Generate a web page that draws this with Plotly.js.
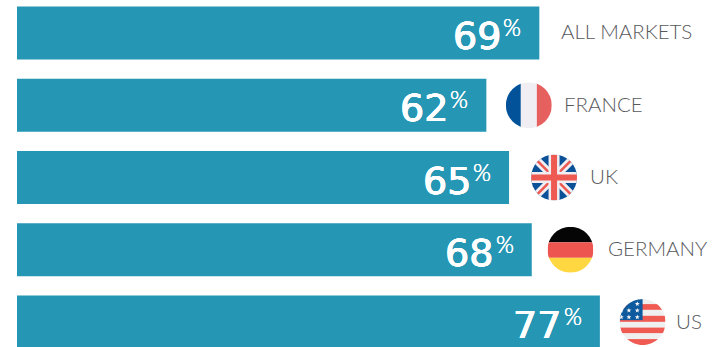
<!DOCTYPE html>
<html>
<head>
<meta charset="utf-8">
<script src="https://cdn.plot.ly/plotly-3.0.1.min.js"></script>
<style>html,body{margin:0;padding:0;background:#fff;overflow:hidden}</style>
</head>
<body>
<div id="chart" style="width:715px;height:347px"></div>
<script>
const markets = ['ALL MARKETS', 'FRANCE', 'UK', 'GERMANY', 'US'];
const shares = [69, 62, 65, 68, 77];

// Horizontal placement relative to each bar's end, in pixels
const labelOffsets = [19.5, 76, 79, 74.5, 74.5];
const flagOffsets = [null, 42.5, 45, 38.7, 42.7];

const W = 715, H = 347, LEFT = 17;
const PX_PER_UNIT = 7.57, PX_PER_ROW = 72.3, FIRST_ROW_PX = 32.9, FLAG_PX = 46;

function flagSvg(body) {
  const svg = '<svg xmlns="http://www.w3.org/2000/svg" width="184" height="184" viewBox="0 0 46 46">' +
    '<defs><clipPath id="c"><circle cx="23" cy="23" r="23"/></clipPath></defs>' +
    '<g clip-path="url(#c)">' + body + '</g></svg>';
  return 'data:image/svg+xml;charset=utf-8,' + encodeURIComponent(svg);
}

function rect(x, y, w, h, fill) {
  return '<rect x="' + x + '" y="' + y + '" width="' + w + '" height="' + h + '" fill="' + fill + '"/>';
}

function star(cx, cy, r) {
  let pts = [];
  for (let i = 0; i < 10; i++) {
    const a = -Math.PI / 2 + i * Math.PI / 5, q = i % 2 ? r * 0.42 : r;
    pts.push((cx + q * Math.cos(a)).toFixed(2) + ',' + (cy + q * Math.sin(a)).toFixed(2));
  }
  return '<polygon points="' + pts.join(' ') + '" fill="#f4f2f2"/>';
}

const france = rect(0, 0, 15, 46, '#02529a') + rect(15, 0, 16, 46, '#f0eef2') + rect(31, 0, 15, 46, '#e76060');

const uk = rect(0, 0, 46, 46, '#0a5198') +
  '<path d="M0 0L46 46M46 0L0 46" stroke="#f0eef2" stroke-width="8"/>' +
  '<path d="M0 0L46 46M46 0L0 46" stroke="#ee5a52" stroke-width="2.5"/>' +
  rect(17.5, 0, 11, 46, '#f0eef2') + rect(0, 17.5, 46, 11, '#f0eef2') +
  rect(20, 0, 6, 46, '#ee5a52') + rect(0, 20, 46, 6, '#ee5a52');

const germany = rect(0, 0, 46, 15.5, '#050505') + rect(0, 15.5, 46, 15.5, '#ed5650') + rect(0, 31, 46, 15, '#ffd740');

let usBody = rect(0, 0, 46, 46, '#f0efef');
[[5, 5.7], [16.7, 6], [28.5, 5.5], [40, 6]].forEach(s => { usBody += rect(0, s[0], 46, s[1], '#ef5a52'); });
usBody += rect(0, 0, 23, 21, '#0e5a9e');
[[17.7, 4.7], [9.3, 11.4], [17.7, 11.4], [1.7, 11.4], [9.3, 18], [17.7, 18], [1.7, 18]].forEach(p => { usBody += star(p[0], p[1], 2.6); });

const flags = [null, france, uk, germany, usBody];

const annotations = [];
const images = [];
markets.forEach((name, i) => {
  annotations.push({
    x: shares[i], y: i, text: String(shares[i]), showarrow: false, xanchor: 'right', yanchor: 'middle',
    xshift: -36.5, yshift: -3,
    font: {family: 'DejaVu Sans', size: 38, weight: 400, color: '#ffffff', shadow: '0.45px 0 0 #fff, -0.45px 0 0 #fff, 0 0.3px 0 #fff, 0 -0.3px 0 #fff'}
  });
  annotations.push({
    x: shares[i], y: i, text: '%', showarrow: false, xanchor: 'left', yanchor: 'middle',
    xshift: -38, yshift: 6, font: {family: 'Lato', size: 23, weight: 300, color: '#ffffff', shadow: '0.25px 0 0 #fff, -0.25px 0 0 #fff'}
  });
  annotations.push({
    x: shares[i], y: i, text: name, showarrow: false, xanchor: 'left', yanchor: 'middle',
    xshift: labelOffsets[i], yshift: 1.5, font: {family: 'Lato', size: 20.5, weight: 300, color: '#58595b'}
  });
  if (flags[i]) {
    images.push({
      source: flagSvg(flags[i]), xref: 'x', yref: 'y', layer: 'above', sizing: 'stretch',
      x: shares[i] + flagOffsets[i] / PX_PER_UNIT, y: i,
      sizex: FLAG_PX / PX_PER_UNIT, sizey: FLAG_PX / PX_PER_ROW,
      xanchor: 'center', yanchor: 'middle'
    });
  }
});

Plotly.newPlot('chart', [{
  type: 'bar',
  orientation: 'h',
  y: markets.map((_, i) => i),
  x: shares,
  width: 53 / PX_PER_ROW,
  marker: {color: '#2596b4', line: {width: 0}},
  hoverinfo: 'skip'
}], {
  width: W,
  height: H,
  margin: {l: LEFT, r: 0, t: 0, b: 0, pad: 0},
  paper_bgcolor: '#ffffff',
  plot_bgcolor: '#ffffff',
  showlegend: false,
  xaxis: {visible: false, range: [0, (W - LEFT) / PX_PER_UNIT], fixedrange: true},
  yaxis: {visible: false, range: [(H - FIRST_ROW_PX) / PX_PER_ROW, -FIRST_ROW_PX / PX_PER_ROW], fixedrange: true},
  annotations: annotations,
  images: images
}, {displayModeBar: false, staticPlot: true});
</script>
</body>
</html>
